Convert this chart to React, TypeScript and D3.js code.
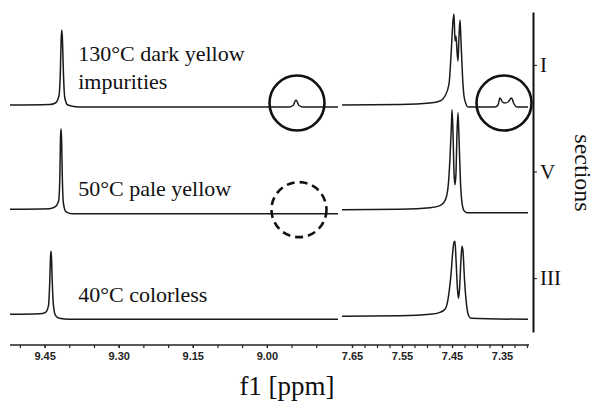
import { useEffect, useRef } from "react";
import * as d3 from "d3";

// sections on the right axis, top to bottom
const sections = ["I", "V", "III"];
const sampleLabels = [["130°C dark yellow", "impurities"], ["50°C pale yellow"], ["40°C colorless"]];

// [ppm, intensity], low-field window (9.52 - 8.856 ppm)
const leftI = [
  [9.52, 1], [9.44, 1.5], [9.428, 3], [9.421, 10], [9.418, 35], [9.4165, 66], [9.415, 76],
  [9.4138, 66], [9.412, 35], [9.409, 8], [9.403, 1], [9.38, -1], [8.955, -1],
  [8.947, 0.5], [8.941, 6], [8.935, 0.5], [8.927, -1], [8.856, -1],
];
const leftV = [
  [9.52, 3.5], [9.44, 4], [9.428, 6], [9.4215, 12], [9.419, 38], [9.4178, 74], [9.4167, 84],
  [9.4156, 74], [9.4142, 38], [9.412, 10], [9.407, 1], [9.395, -1], [8.856, -1],
];
const leftIII = [
  [9.52, 5], [9.46, 5.5], [9.448, 7], [9.442, 14], [9.4395, 38], [9.438, 62], [9.437, 68],
  [9.436, 62], [9.4345, 38], [9.432, 14], [9.428, 4], [9.42, 1], [9.4, 0], [8.856, 0],
];

// [ppm, intensity], aromatic window (7.67 - 7.298 ppm)
const rightI = [
  [7.67, 1], [7.554, 1.5], [7.494, 3], [7.474, 5], [7.464, 10], [7.456, 22], [7.452, 50],
  [7.448, 85], [7.446, 92], [7.444, 65], [7.442, 70], [7.44, 55], [7.438, 45], [7.436, 70],
  [7.434, 86], [7.432, 65], [7.429, 30], [7.426, 10], [7.422, 2], [7.418, -1], [7.364, -1],
  [7.358, 1], [7.354, 8], [7.349, 4], [7.344, 3], [7.338, 4], [7.331, 8], [7.326, 2],
  [7.32, -1], [7.298, -1],
];
const rightV = [
  [7.67, 3], [7.554, 3.5], [7.494, 5], [7.474, 7], [7.464, 12], [7.458, 25], [7.454, 55],
  [7.451, 90], [7.45, 103], [7.448, 80], [7.446, 40], [7.444, 28], [7.442, 40], [7.44, 80],
  [7.438, 100], [7.436, 75], [7.433, 30], [7.43, 10], [7.426, 2], [7.42, 0], [7.298, 0],
];
const rightIII = [
  [7.67, 3], [7.554, 3.5], [7.494, 5], [7.474, 7], [7.464, 10], [7.458, 20], [7.452, 45],
  [7.448, 70], [7.446, 77], [7.444, 78], [7.442, 60], [7.439, 30], [7.437, 21], [7.435, 30],
  [7.432, 60], [7.43, 73], [7.428, 68], [7.425, 40], [7.421, 15], [7.417, 4], [7.412, 1],
  [7.298, 0],
];

const leftSpectra = [leftI, leftV, leftIII];
const rightSpectra = [rightI, rightV, rightIII];

const leftTicks = [9.45, 9.3, 9.15, 9.0];
const rightTicks = [7.65, 7.55, 7.45, 7.35];

// highlighted regions: [section, window, ppm, dashed]
const highlights = [
  ["I", "left", 8.939, false],
  ["I", "right", 7.346, false],
  ["V", "left", 8.935, true],
];

const serif = "'Liberation Serif', 'Times New Roman', serif";

export default function App() {
  const ref = useRef<SVGSVGElement>(null);

  useEffect(() => {
    const svg = d3.select(ref.current);
    svg.selectAll("*").remove();

    const axisY = 345;
    const xL = d3.scaleLinear().domain([9.52, 8.856]).range([10, 338]);
    const xR = d3.scaleLinear().domain([7.67, 7.298]).range([342, 528]);
    const band = d3.scaleBand().domain(sections).range([12, 332]);
    // intensity -> px inside a band
    const yI = d3.scaleLinear().domain([0, 100]).range([94, -6]);

    // spectra
    const drawSet = (data: number[][][], x: d3.ScaleLinear<number, number>) => {
      data.forEach((spec, i) => {
        const off = band(sections[i]) as number;
        const line = d3
          .line<number[]>()
          .x((d) => x(d[0]))
          .y((d) => off + yI(d[1]))
          .curve(d3.curveMonotoneX);
        svg
          .append("path")
          .attr("d", line(spec))
          .attr("fill", "none")
          .attr("stroke", "#1a1a1a")
          .attr("stroke-width", 1.5);
      });
    };
    drawSet(leftSpectra, xL);
    drawSet(rightSpectra, xR);

    // circles around impurity signals
    highlights.forEach(([sec, win, ppm, dashed]) => {
      const x = win === "left" ? xL : xR;
      svg
        .append("circle")
        .attr("cx", x(ppm as number))
        .attr("cy", (band(sec as string) as number) + yI(0) - 3)
        .attr("r", 27.5)
        .attr("fill", "none")
        .attr("stroke", "#111")
        .attr("stroke-width", 2.6)
        .attr("stroke-dasharray", dashed ? "8,5" : null);
    });

    // sample labels
    sampleLabels.forEach((lines, i) => {
      const base = (band(sections[i]) as number) + yI(0);
      const t = svg
        .append("text")
        .attr("x", xL(9.382))
        .attr("font-family", serif)
        .attr("font-size", 22)
        .attr("fill", "#111");
      lines.forEach((s, j) => {
        t.append("tspan")
          .attr("x", xL(9.382))
          .attr("y", base - 17 - (lines.length - 1 - j) * 28)
          .text(s);
      });
    });

    // bottom axis (broken)
    const styleAxis = (g: d3.Selection<SVGGElement, unknown, null, undefined>) => {
      g.select(".domain").remove();
      g.selectAll("line").attr("stroke", "#222").attr("stroke-width", 1.2);
      g.selectAll("text")
        .attr("font-family", "'Liberation Sans', Arial, sans-serif")
        .attr("font-weight", "bold")
        .attr("font-size", 11)
        .attr("fill", "#222");
    };
    svg
      .append("line")
      .attr("x1", 10)
      .attr("x2", 529)
      .attr("y1", axisY)
      .attr("y2", axisY)
      .attr("stroke", "#222")
      .attr("stroke-width", 1.6);

    const minorL = d3.range(9.5, 8.87, -0.05);
    const minorR = d3.range(7.65, 7.29, -0.025);
    [
      [xL, minorL, leftTicks],
      [xR, minorR, rightTicks],
    ].forEach(([x, minor, major]) => {
      const s = x as d3.ScaleLinear<number, number>;
      svg
        .append("g")
        .attr("transform", `translate(0,${axisY})`)
        .call(d3.axisBottom(s).tickValues(minor as number[]).tickSize(3).tickFormat(() => ""))
        .call(styleAxis);
      svg
        .append("g")
        .attr("transform", `translate(0,${axisY})`)
        .call(d3.axisBottom(s).tickValues(major as number[]).tickSize(3).tickPadding(4).tickFormat(d3.format(".2f")))
        .call(styleAxis);
    });

    svg
      .append("text")
      .attr("x", 287)
      .attr("y", 395)
      .attr("text-anchor", "middle")
      .attr("font-family", serif)
      .attr("font-size", 27)
      .attr("fill", "#111")
      .text("f1 [ppm]");

    // right axis with sections
    const ra = svg
      .append("g")
      .attr("transform", "translate(533,0)")
      .call(d3.axisRight(band).tickSize(4).tickSizeOuter(0).tickPadding(3));
    ra.select(".domain").attr("stroke", "#111").attr("stroke-width", 2);
    ra.selectAll("line").attr("stroke", "#111");
    ra.selectAll("text")
      .attr("font-family", serif)
      .attr("font-size", 21)
      .attr("fill", "#111");

    svg
      .append("text")
      .attr("transform", "translate(575,173) rotate(90)")
      .attr("text-anchor", "middle")
      .attr("font-family", serif)
      .attr("font-size", 24)
      .attr("fill", "#111")
      .text("sections");
  }, []);

  return (
    <svg
      ref={ref}
      width={597}
      height={403}
      style={{ position: "absolute", left: 0, top: 0, background: "#fff" }}
    />
  );
}
